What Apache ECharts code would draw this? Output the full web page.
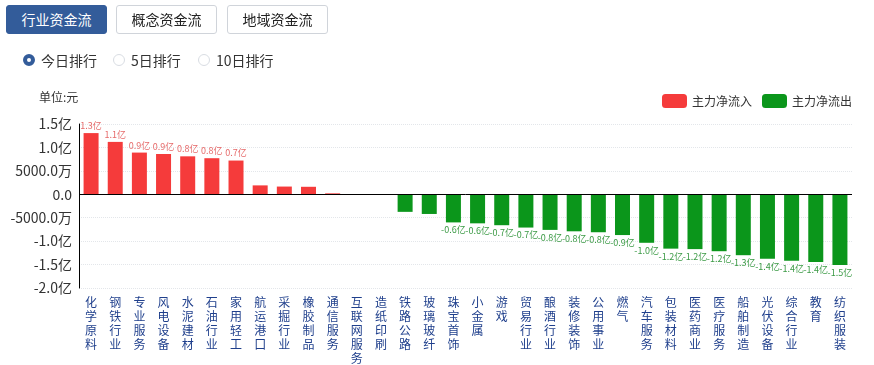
<!DOCTYPE html>
<html>
<head>
<meta charset="utf-8">
<script src="https://cdn.jsdelivr.net/npm/echarts@6/dist/echarts.min.js"></script>
<style>
  html, body { margin:0; padding:0; background:#fff; font-family:"Noto Sans CJK SC","Noto Sans",sans-serif; }
  #wrap { position:relative; width:874px; height:365px; overflow:hidden; }
  #chart { position:absolute; left:0; top:0; width:874px; height:365px; }
  .btn { position:absolute; top:5px; height:27px; width:99px; border:1px solid #d0d4da; border-radius:3px; background:#fff; color:#222; font-size:14px; line-height:27px; text-align:center; box-sizing:content-box; }
  .btn.on { background:#335c9a; border-color:#335c9a; color:#fff; }
  .radio { position:absolute; top:51px; font-size:14px; color:#333; line-height:18px; }
  .radio i { position:absolute; top:3px; width:12px; height:12px; border-radius:50%; box-sizing:border-box; border:1px solid #d8dce2; background:#fff; }
  .radio i.on { border:4px solid #335c9a; }
</style>
</head>
<body>
<div id="wrap">
  <div id="chart"></div>
  <div class="btn on" style="left:6px;">行业资金流</div>
  <div class="btn" style="left:116px;">概念资金流</div>
  <div class="btn" style="left:227px;">地域资金流</div>
  <div class="radio" style="left:23px;"><i class="on" style="left:0"></i><span style="margin-left:18px">今日排行</span></div>
  <div class="radio" style="left:113px;"><i style="left:0"></i><span style="margin-left:18px">5日排行</span></div>
  <div class="radio" style="left:198px;"><i style="left:0"></i><span style="margin-left:18px">10日排行</span></div>
</div>
<script>
var categories = ['化学原料','钢铁行业','专业服务','风电设备','水泥建材','石油行业','家用轻工','航运港口','采掘行业','橡胶制品','通信服务','互联网服务','造纸印刷','铁路公路','玻璃玻纤','珠宝首饰','小金属','游戏','贸易行业','酿酒行业','装修装饰','公用事业','燃气','汽车服务','包装材料','医药商业','医疗服务','船舶制造','光伏设备','综合行业','教育','纺织服装'];
// net main-force flow, unit: 亿元
var values = [1.306,1.118,0.89,0.86,0.81,0.77,0.72,0.19,0.165,0.16,0.02,0.006,-0.004,-0.375,-0.42,-0.60,-0.62,-0.66,-0.71,-0.76,-0.79,-0.81,-0.87,-1.035,-1.16,-1.17,-1.215,-1.30,-1.375,-1.42,-1.445,-1.51];
var seriesNames = ['主力净流入','主力净流出'];
var yTicks = {min:-2, max:1.5, interval:0.5};

var inflow = values.map(function(v){ return v > 0 ? v : '-'; });
var outflow = values.map(function(v){ return v < 0 ? v : '-'; });

function fmtAxis(v){
  if (v === 0) return '0.0';
  if (Math.abs(v) >= 1) return v.toFixed(1) + '亿';
  return (v * 10000).toFixed(1) + '万';
}
function fmtLabel(p){
  var v = p.value;
  if (typeof v !== 'number' || Math.abs(v) < 0.5) return '';
  return v.toFixed(1) + '亿';
}

var FONT = '"Noto Sans CJK SC","Noto Sans",sans-serif';
var RED = '#f53b3b', GREEN = '#0b961b';
var chart = echarts.init(document.getElementById('chart'), null, {renderer:'canvas'});
chart.setOption({
  animation:false,
  textStyle:{fontFamily:FONT},
  title:{text:'单位:元', left:34, top:86, textStyle:{fontSize:12, fontWeight:'normal', color:'#333', fontFamily:FONT}},
  legend:{
    right:17, top:89, itemWidth:25, itemHeight:14, itemGap:10, icon:'roundRect',
    textStyle:{fontSize:12, color:'#333', fontFamily:FONT},
    data:seriesNames
  },
  grid:{left:79, right:22, top:124, bottom:73, containLabel:false},
  xAxis:{
    type:'category', data:categories, position:'bottom',
    axisLine:{show:false}, axisTick:{show:false},
    axisLabel:{interval:0, margin:7, fontSize:12, lineHeight:14, color:'#1f3f8c', fontFamily:FONT,
      formatter:function(s){ return s.split('').join('\n'); }, verticalAlign:'top'}
  },
  yAxis:{
    type:'value', min:yTicks.min, max:yTicks.max, interval:yTicks.interval,
    axisLine:{show:true, lineStyle:{color:'#000'}},
    axisTick:{show:false},
    axisLabel:{fontSize:14, color:'#333', margin:7, formatter:fmtAxis, fontFamily:FONT},
    splitLine:{show:true, lineStyle:{color:'#e3e6ea', type:'dotted'}}
  },
  series:[{
    name:seriesNames[0], type:'bar', stack:'s', data:inflow, barWidth:15,
    itemStyle:{color:RED},
    label:{show:true, position:'top', distance:3, fontSize:9, color:'#e66a6a', formatter:fmtLabel},
    markLine:{silent:true, symbol:'none', label:{show:false},
      lineStyle:{color:'#000', width:1, type:'solid'}, data:[{yAxis:0}]}
  },{
    name:seriesNames[1], type:'bar', stack:'s', data:outflow, barWidth:15,
    itemStyle:{color:GREEN},
    label:{show:true, position:'bottom', distance:3, fontSize:9, color:'#3b9a45', formatter:fmtLabel}
  }]
});
</script>
</body>
</html>
